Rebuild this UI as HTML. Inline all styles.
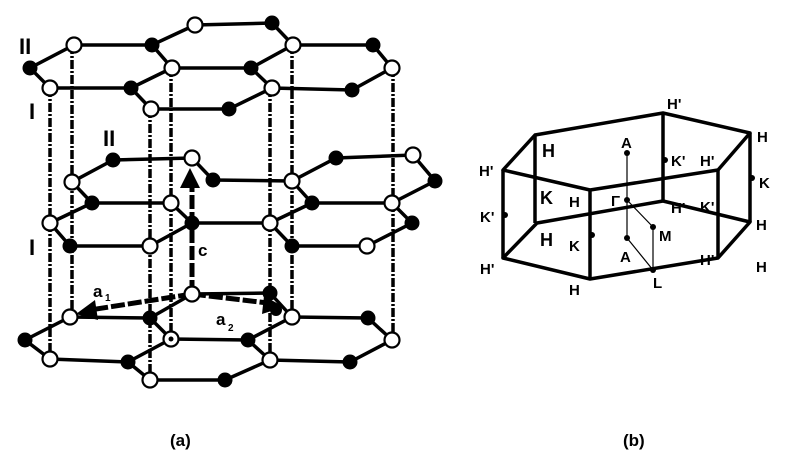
<!DOCTYPE html>
<html><head><meta charset="utf-8"><style>
html,body{margin:0;padding:0;background:#fff}
svg{display:block}
text{font-family:"Liberation Sans",sans-serif;font-weight:bold;fill:#000}
</style></head><body>
<svg width="795" height="476" viewBox="0 0 795 476" xmlns="http://www.w3.org/2000/svg">
<g stroke="#000" stroke-width="3.5" stroke-dasharray="9,2,2,2">
<line x1="50" y1="88" x2="50" y2="360"/>
<line x1="72" y1="45" x2="72" y2="317"/>
<line x1="150" y1="109" x2="150" y2="380"/>
<line x1="171" y1="68" x2="171" y2="340"/>
<line x1="270" y1="88" x2="270" y2="360"/>
<line x1="292" y1="45" x2="292" y2="317"/>
<line x1="393" y1="68" x2="393" y2="340"/>
</g>
<g stroke="#000" stroke-width="3.5" fill="none">
<path d="M195,25 L272,23 L293,45 L373,45 L392,68 L352,90 L272,88 L251,68 L293,45"/>
<path d="M195,25 L152,45 L74,45 L30,68 L50,88 L131,88 L151,109 L229,109 L272,88"/>
<path d="M152,45 L172,68 L251,68 M172,68 L131,88"/>
<path d="M113,160 L192,158 L213,180 L292,181 L336,158 L413,155 L435,181 L392,203 L312,203 L292,181"/>
<path d="M113,160 L72,182 L92,203 L171,203 L192,223 L270,223 L312,203 M92,203 L50,223 L70,246 L150,246 L192,223"/>
<path d="M270,223 L292,246 L367,246 L412,223 L392,203"/>
<path d="M192,294 L270,293 M192,294 L150,318 L70,317 L25,340 L50,359 L128,362 L150,380 L225,380 L270,360 L350,362 L392,340 L368,318 L292,317 L248,340 L171,339 L150,318"/>
<path d="M128,362 L171,339 M248,340 L270,360 M270,293 L292,317"/>
</g>
<g stroke="#000" stroke-width="5" stroke-dasharray="14,3">
<line x1="192" y1="294" x2="192" y2="185"/>
<line x1="192" y1="294" x2="90" y2="310"/>
<line x1="192" y1="294" x2="268" y2="303"/>
</g>
<polygon points="190,168 180,188 200,188" fill="#000"/>
<polygon points="76,314 95,300 98,320" fill="#000"/>
<polygon points="284,307 264,296 262,314" fill="#000"/>
<g stroke="#000" stroke-width="2.2" fill="#fff">
<circle cx="195" cy="25" r="7.5"/><circle cx="74" cy="45" r="7.5"/><circle cx="293" cy="45" r="7.5"/>
<circle cx="172" cy="68" r="7.5"/><circle cx="392" cy="68" r="7.5"/><circle cx="50" cy="88" r="7.5"/>
<circle cx="272" cy="88" r="7.5"/><circle cx="151" cy="109" r="7.5"/>
<circle cx="192" cy="158" r="7.5"/><circle cx="413" cy="155" r="7.5"/><circle cx="72" cy="182" r="7.5"/>
<circle cx="292" cy="181" r="7.5"/><circle cx="171" cy="203" r="7.5"/><circle cx="392" cy="203" r="7.5"/>
<circle cx="50" cy="223" r="7.5"/><circle cx="270" cy="223" r="7.5"/><circle cx="150" cy="246" r="7.5"/>
<circle cx="367" cy="246" r="7.5"/>
<circle cx="192" cy="294" r="7.5"/><circle cx="70" cy="317" r="7.5"/><circle cx="292" cy="317" r="7.5"/>
<circle cx="171" cy="339" r="7.5"/><circle cx="392" cy="340" r="7.5"/><circle cx="50" cy="359" r="7.5"/>
<circle cx="270" cy="360" r="7.5"/><circle cx="150" cy="380" r="7.5"/>
</g>
<circle cx="171" cy="339" r="2.5" fill="#000"/>
<g fill="#000">
<circle cx="272" cy="23" r="7.5"/><circle cx="152" cy="45" r="7.5"/><circle cx="373" cy="45" r="7.5"/>
<circle cx="30" cy="68" r="7.5"/><circle cx="251" cy="68" r="7.5"/><circle cx="131" cy="88" r="7.5"/>
<circle cx="352" cy="90" r="7.5"/><circle cx="229" cy="109" r="7.5"/>
<circle cx="113" cy="160" r="7.5"/><circle cx="336" cy="158" r="7.5"/><circle cx="213" cy="180" r="7.5"/>
<circle cx="435" cy="181" r="7.5"/><circle cx="92" cy="203" r="7.5"/><circle cx="312" cy="203" r="7.5"/>
<circle cx="192" cy="223" r="7.5"/><circle cx="412" cy="223" r="7.5"/><circle cx="70" cy="246" r="7.5"/>
<circle cx="292" cy="246" r="7.5"/>
<circle cx="270" cy="293" r="7.5"/><circle cx="276" cy="310" r="6"/><circle cx="150" cy="318" r="7.5"/>
<circle cx="368" cy="318" r="7.5"/><circle cx="248" cy="340" r="7.5"/><circle cx="25" cy="340" r="7.5"/>
<circle cx="128" cy="362" r="7.5"/><circle cx="350" cy="362" r="7.5"/><circle cx="225" cy="380" r="7.5"/>
</g>
<text x="19" y="54" font-size="22">II</text>
<text x="29" y="119" font-size="22">I</text>
<text x="103" y="146" font-size="22">II</text>
<text x="29" y="255" font-size="22">I</text>
<text x="198" y="256" font-size="17">c</text>
<text x="93" y="297" font-size="17">a</text><text x="105" y="301" font-size="10">1</text>
<text x="216" y="325" font-size="17">a</text><text x="228" y="331" font-size="10">2</text>
<text x="170" y="446" font-size="17">(a)</text>
<text x="623" y="446" font-size="17">(b)</text>
<g stroke="#000" stroke-width="3.5" fill="none" stroke-linejoin="round">
<path d="M503,170 L535,135 L663,113 L750,133 L718,170 L590,190 Z"/>
<path d="M503,258 L537,223 L663,201 L750,222 L718,258 L590,279 Z"/>
<path d="M503,170 V258 M535,135 V223 M663,113 V201 M750,133 V222 M718,170 V258 M590,190 V279"/>
</g>
<g stroke="#000" stroke-width="1.2" fill="none">
<line x1="627" y1="153" x2="627" y2="238"/>
<line x1="627" y1="200" x2="653" y2="227"/>
<line x1="653" y1="227" x2="653" y2="270"/>
<line x1="627" y1="238" x2="653" y2="270"/>
</g>
<g fill="#000">
<circle cx="627" cy="153" r="3"/><circle cx="627" cy="200" r="3"/><circle cx="627" cy="238" r="3"/>
<circle cx="653" cy="227" r="3"/><circle cx="653" cy="270" r="3"/>
<circle cx="665" cy="160" r="3"/><circle cx="752" cy="178" r="3"/><circle cx="505" cy="215" r="3"/>
<circle cx="592" cy="235" r="3"/>
</g>
<g font-size="15">
<text x="667" y="109">H'</text>
<text x="757" y="142">H</text>
<text x="671" y="166">K'</text>
<text x="700" y="166">H'</text>
<text x="759" y="188">K</text>
<text x="756" y="230">H</text>
<text x="479" y="176">H'</text>
<text x="542" y="157" font-size="18">H</text>
<text x="540" y="204" font-size="18">K</text>
<text x="569" y="207">H</text>
<text x="611" y="206">Γ</text>
<text x="671" y="213">H'</text>
<text x="700" y="212">K'</text>
<text x="480" y="222">K'</text>
<text x="540" y="246" font-size="18">H</text>
<text x="569" y="251">K</text>
<text x="659" y="241">M</text>
<text x="621" y="148">A</text>
<text x="620" y="262">A</text>
<text x="480" y="274">H'</text>
<text x="569" y="295">H</text>
<text x="653" y="288">L</text>
<text x="700" y="265">H'</text>
<text x="756" y="272">H</text>
</g>
</svg>
</body></html>
